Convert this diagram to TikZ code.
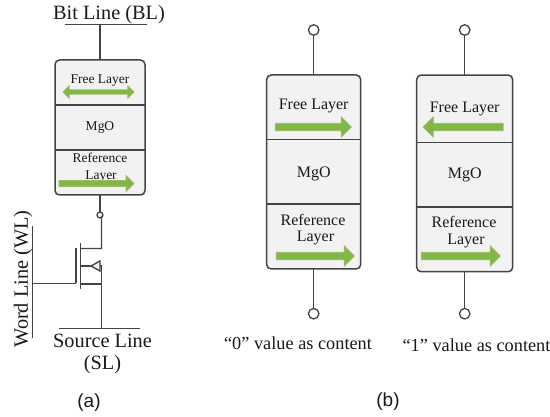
\documentclass[tikz,border=0pt]{standalone}
\usepackage{fontspec}
\setmainfont{Liberation Serif}
\newfontfamily\capfont{Liberation Sans}
\usetikzlibrary{shapes.arrows}
\definecolor{linecol}{HTML}{444444}
\definecolor{cellfill}{HTML}{F2F2F2}
\definecolor{arrowfill}{HTML}{7DB944}
\definecolor{arrowedge}{HTML}{A3B86C}
\tikzset{
  wire/.style={draw=linecol,line width=1.4pt},
  cell/.style={draw=linecol,fill=cellfill,line width=1.5pt,rounded corners=4.5pt,inner sep=0pt,outer sep=0pt},
  term/.style={circle,draw=linecol,fill=white,line width=1.3pt,inner sep=0pt,outer sep=0pt},
  txt/.style={inner sep=0pt,text=black!90,align=center},
  bigtxt/.style={txt,font=\fontsize{20.3}{22}\selectfont},
  smalltxt/.style={txt,font=\fontsize{13.5}{15}\selectfont,yshift=-1pt},
  midtxt/.style={txt,font=\fontsize{16}{18}\selectfont,yshift=-1.5pt},
  valtxt/.style={txt,font=\fontsize{18.3}{20}\selectfont,yshift=-1pt},
  captxt/.style={txt,font=\capfont\fontsize{19}{20}\selectfont,yshift=-1.5pt},
  bigarrow/.style={single arrow,fill=arrowfill,draw=arrowedge,line width=0.8pt,inner sep=0pt,outer sep=0pt,
    text height=6.5pt,text depth=0pt,text width=0pt,
    minimum width=20pt,single arrow head extend=6.5pt,single arrow head indent=0pt,shape border rotate=#1},
  bigarrow/.default=0,
  smallarrow/.style={bigarrow,text height=5pt,minimum width=15pt,single arrow head extend=5pt},
  dblarrow/.style={double arrow,fill=arrowfill,draw=arrowedge,line width=0.8pt,inner sep=0pt,outer sep=0pt,
    text height=3.5pt,text depth=0pt,text width=0pt,
    minimum width=12pt,double arrow head extend=4pt},
}
\begin{document}
\begin{tikzpicture}[x=1pt,y=-1pt]
\useasboundingbox (0,0) rectangle (550,417);
% --- (a)
\coordinate (blL) at (65,24.5); \coordinate (blR) at (147,24.5); \coordinate (blT) at (100,24.5);
\draw[wire] (blL) -- (blR);
\node[bigtxt,yshift=-1pt] (bl) at (109,14) {Bit Line (BL)};
\node[cell,minimum width=90pt,minimum height=135pt] (a) at (100,127.5) {};
\draw[wire] (blT) -- (a.north);
\coordinate (a1L) at (55,105); \coordinate (a1R) at (145,105);
\coordinate (a2L) at (55,150); \coordinate (a2R) at (145,150);
\draw[wire] (a1L) -- (a1R);
\draw[wire] (a2L) -- (a2R);
\node[smalltxt] (afree) at (100,80) {Free Layer};
\node[dblarrow,minimum height=71pt] (afreeA) at (98.5,92) {};
\node[smalltxt] (amgo) at (100,126.5) {MgO};
\node[smalltxt] (aref) at (100,157) {Reference};
\node[smalltxt] (alay) at (101,175.5) {Layer};
\node[smallarrow,minimum height=75pt] (arefA) at (95,183.5) {};
\node[term,minimum size=6pt] (at) at (100,215) {};
\draw[wire] (a.south) -- (at);
% transistor
\coordinate (dTop) at (101.5,217.5);
\coordinate (dCor) at (101.5,248.5);
\coordinate (dIn) at (81,248.5);
\coordinate (mIn) at (81,266);
\coordinate (mOut) at (101.5,266);
\coordinate (sIn) at (81,284);
\coordinate (sJ) at (101.5,284);
\coordinate (chT) at (80.5,243); \coordinate (chB) at (80.5,289.5);
\coordinate (gT) at (76,248); \coordinate (gB) at (76,283.5);
\coordinate (wlT) at (32.5,226); \coordinate (wlB) at (32.5,338);
\coordinate (wlJ) at (32.5,283.5);
\coordinate (slL) at (59,328.5); \coordinate (slR) at (140,328.5); \coordinate (slJ) at (101.5,328.5);
\draw[wire] (at) -- (dTop) -- (dCor) -- (dIn);
\draw[wire] (chT) -- (chB);
\draw[wire] (gT) -- (gB);
\draw[wire] (mIn) -- (mOut) -- (slJ);
\draw[wire] (sIn) -- (sJ);
\draw[wire] (wlJ) -- (gB);
\draw[wire] (wlT) -- (wlB);
\draw[wire] (slL) -- (slR);
\draw[draw=linecol,fill=cellfill,line width=1.4pt] (91,266) -- (100,261) -- (100,271) -- cycle;
\node[bigtxt,rotate=90] (wl) at (23,279) {Word Line (WL)};
\node[bigtxt] (sl) at (102.5,341) {Source Line};
\node[bigtxt] (sl2) at (102.5,365) {(SL)};
\node[captxt] (capa) at (89,401) {(a)};
% --- (b) left
\node[cell,minimum width=94pt,minimum height=194pt] (b) at (313.7,172) {};
\node[term,minimum size=10.5pt] (b0t) at (313.7,30) {};
\node[term,minimum size=10.5pt] (b0b) at (313.7,313.7) {};
\draw[wire,line width=1.2pt] (b0t) -- (b.north);
\draw[wire,line width=1.2pt] (b.south) -- (b0b);
\coordinate (b1L) at (266.7,139.5); \coordinate (b1R) at (360.7,139.5);
\coordinate (b2L) at (266.7,204); \coordinate (b2R) at (360.7,204);
\draw[wire] (b1L) -- (b1R);
\draw[wire] (b2L) -- (b2R);
\node[midtxt] (bfree) at (313.7,104) {Free Layer};
\node[bigarrow,minimum height=76pt] (bfreeA) at (311.5,127) {};
\node[midtxt] (bmgo) at (313.7,172) {MgO};
\node[midtxt] (bref) at (313,218) {Reference};
\node[midtxt] (blay) at (315.5,236.5) {Layer};
\node[bigarrow,minimum height=78pt] (brefA) at (313.5,256) {};
\node[valtxt] (v0) at (298,342) {“0” value as content};
% --- (b) right
\node[cell,minimum width=96pt,minimum height=196.7pt] (c) at (464.7,173.4) {};
\node[term,minimum size=10.5pt] (c0t) at (464.7,30) {};
\node[term,minimum size=10.5pt] (c0b) at (464.7,313.7) {};
\draw[wire,line width=1.2pt] (c0t) -- (c.north);
\draw[wire,line width=1.2pt] (c.south) -- (c0b);
\coordinate (c1L) at (416.7,142.3); \coordinate (c1R) at (512.7,142.3);
\coordinate (c2L) at (416.7,207); \coordinate (c2R) at (512.7,207);
\draw[wire] (c1L) -- (c1R);
\draw[wire] (c2L) -- (c2R);
\node[midtxt] (cfree) at (464.7,107.5) {Free Layer};
\node[bigarrow=180,minimum height=80pt] (cfreeA) at (465,127) {};
\node[midtxt] (cmgo) at (464.7,173) {MgO};
\node[midtxt] (cref) at (464,220) {Reference};
\node[midtxt] (clay) at (466,239) {Layer};
\node[bigarrow,minimum height=79pt] (crefA) at (459,256) {};
\node[valtxt] (v1) at (476.5,344) {“1” value as content};
\node[captxt] (capb) at (388,400) {(b)};
\end{tikzpicture}
\end{document}
